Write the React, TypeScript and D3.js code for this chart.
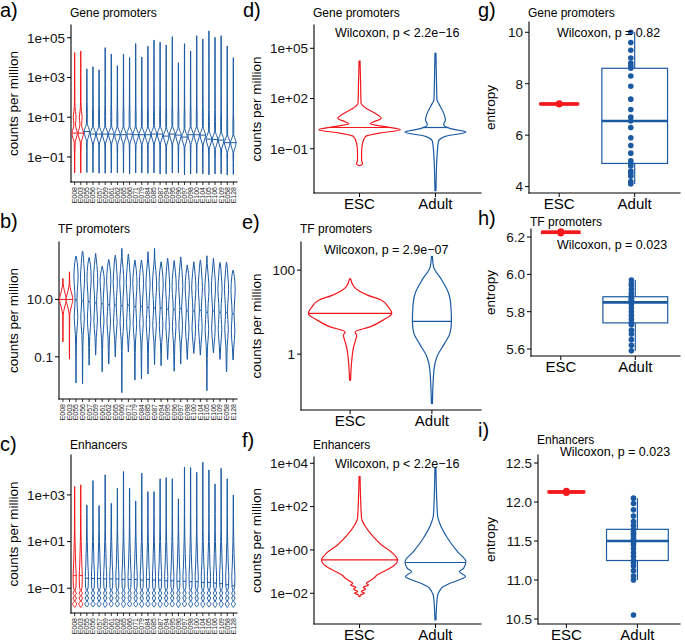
import React from 'react';
import * as d3 from 'd3';

type Pt = [number, number];

const RED = '#F2181C';
const BLUE = '#1B5AA3';
const FONT = '"Liberation Sans", Arial, Helvetica, sans-serif';

// Roadmap epigenomes: 2 ESC lines, then 25 adult tissues
const escSamples = ['E008', 'E003'];
const adultSamples = [
  'E055', 'E056', 'E057', 'E059', 'E061', 'E062', 'E065', 'E066', 'E071', 'E079', 'E084', 'E085', 'E087',
  'E094', 'E095', 'E096', 'E097', 'E098', 'E100', 'E104', 'E105', 'E106', 'E109', 'E058', 'E128',
];
const samples = [...escSamples, ...adultSamples];
const groups = ['ESC', 'Adult'];

// a) gene promoters, log10 cpm per sample
const geneMax = [4.25, 4.33, 3.43, 3.54, 3.38, 4.5, 4.18, 3.59, 4.18, 4.0, 4.7, 4.03, 4.57, 4.88, 4.78, 4.63, 5.05, 3.74, 4.7, 4.33, 5.1, 4.93, 5.34, 5.02, 5.1, 4.58, 4.0];
const geneMedian = [0.2, 0.2, 0.28, 0.15, 0.15, 0.15, 0.15, 0.12, 0.12, 0.15, 0.12, 0.12, 0.12, 0.15, 0.15, 0.05, 0.15, 0.1, 0.0, 0.12, 0.12, 0.1, -0.1, -0.12, -0.15, -0.28, -0.28];
const geneMin = [-1.8, -1.8, -1.78, -1.78, -1.82, -1.82, -1.8, -1.8, -1.8, -1.85, -1.8, -1.8, -1.82, -1.8, -1.85, -1.85, -1.8, -1.8, -1.9, -1.85, -1.82, -1.85, -1.9, -1.85, -1.85, -1.9, -1.88];

// b) TF promoters
const tfMax = [1.73, 1.96, 2.51, 2.68, 2.46, 2.6, 2.16, 2.39, 2.54, 2.78, 2.58, 2.37, 2.37, 2.66, 2.78, 2.31, 2.43, 2.35, 2.48, 2.2, 2.31, 2.37, 2.52, 2.43, 2.29, 2.3, 2.02];
const tfMedian = [1.0, 1.0, 0.98, 0.95, 0.92, 0.88, 0.85, 0.82, 0.8, 0.78, 0.8, 0.75, 0.75, 0.72, 0.7, 0.7, 0.66, 0.65, 0.68, 0.6, 0.6, 0.62, 0.55, 0.6, 0.55, 0.55, 0.5];
const tfMin = [-0.48, -1.08, -1.91, -1.94, -1.29, -0.94, -1.52, -1.25, -1.0, -2.25, -0.83, -1.81, -1.77, -1.6, -1.27, -1.31, -1.09, -1.5, -1.25, -1.09, -0.88, -0.94, -2.18, -0.86, -1.09, -1.52, -1.11];

// c) enhancers
const enhMax = [3.36, 3.43, 2.57, 3.61, 2.54, 3.86, 2.64, 3.29, 4.0, 3.29, 2.74, 3.93, 3.14, 3.14, 3.69, 3.74, 3.69, 2.83, 4.19, 4.17, 3.97, 4.4, 4.07, 3.47, 4.14, 3.69, 3.0];
const enhMedian = [-0.46, -0.46, -0.57, -0.58, -0.58, -0.6, -0.6, -0.6, -0.62, -0.62, -0.62, -0.65, -0.62, -0.65, -0.65, -0.68, -0.68, -0.7, -0.7, -0.72, -0.72, -0.75, -0.75, -0.78, -0.8, -0.85, -0.9];
const enhMin = [-1.82, -1.82, -1.8, -1.8, -1.8, -1.82, -1.8, -1.8, -1.82, -1.8, -1.8, -1.82, -1.8, -1.8, -1.82, -1.8, -1.8, -1.82, -1.8, -1.82, -1.8, -1.82, -1.8, -1.82, -1.82, -1.82, -1.82];

// per-sample violin outlines: [offset from median (log10), relative density]
const geneShapeEsc: Pt[] = [[-2.5, 0.05], [-1.0, 0.07], [-0.45, 0.18], [-0.25, 0.6], [0, 1], [0.25, 0.5], [0.45, 0.3], [0.8, 0.5], [1.1, 0.25], [1.6, 0.08], [3, 0.05], [6, 0.04]];
const geneShapeAdult: Pt[] = [[-2.5, 0.05], [-1.0, 0.06], [-0.5, 0.12], [-0.3, 0.5], [0, 1], [0.25, 0.45], [0.42, 0.12], [0.9, 0.16], [1.5, 0.08], [2.5, 0.05], [4, 0.04], [6, 0.04]];
const tfShapeEsc: Pt[] = [[-3, 0.05], [-1, 0.07], [-0.55, 0.12], [-0.3, 0.7], [0, 1.6], [0.3, 0.7], [0.55, 0.12], [1, 0.07], [2, 0.05]];
const tfShapeAdult: Pt[] = [[-3, 0.06], [-2, 0.1], [-1.2, 0.3], [-0.6, 0.85], [-0.25, 0.6], [0, 0.45], [0.3, 0.6], [0.8, 1.0], [1.3, 0.6], [1.7, 0.15], [2.5, 0.05]];
// enhancers: absolute log10 cpm (low-count beads sit at fixed levels)
const enhShape: Pt[] = [[-1.8, 0.05], [-1.66, 0.75], [-1.55, 0.12], [-1.42, 0.65], [-1.32, 0.12], [-1.21, 0.65], [-1.1, 0.15], [-0.95, 0.5], [-0.5, 0.6], [0.0, 0.4], [0.5, 0.28], [1.0, 0.16], [1.5, 0.09], [2.2, 0.06], [3.0, 0.05], [4.5, 0.04]];

// d-f) pooled violins: [log10 cpm, relative density]
const geneEscShape: Pt[] = [[-2.0, 0.012], [-1.95, 0.06], [-1.88, 0.074], [-1.7, 0.05], [-1.2, 0.05], [-0.65, 0.074], [-0.26, 0.15], [-0.06, 0.49], [0.14, 1.0], [0.35, 0.54], [0.49, 0.26], [0.6, 0.34], [0.83, 0.53], [1.1, 0.39], [1.43, 0.15], [1.73, 0.037], [3.0, 0.025], [4.24, 0.012]];
const geneAdultShape: Pt[] = [[-3.5, 0.012], [-1.5, 0.037], [-0.56, 0.074], [-0.26, 0.245], [0.0, 0.75], [0.2, 0.37], [0.43, 0.2], [0.73, 0.245], [1.13, 0.2], [1.73, 0.074], [1.92, 0.037], [3.0, 0.025], [4.7, 0.012]];
const tfEscShape: Pt[] = [[-0.62, 0.012], [-0.07, 0.048], [0.17, 0.084], [0.33, 0.13], [0.45, 0.16], [0.53, 0.12], [0.65, 0.48], [0.81, 0.79], [0.97, 1.0], [1.13, 0.91], [1.29, 0.74], [1.4, 0.43], [1.52, 0.19], [1.6, 0.096], [1.79, 0.012]];
const tfAdultShape: Pt[] = [[-1.17, 0.012], [-0.38, 0.048], [-0.06, 0.12], [0.25, 0.3], [0.49, 0.43], [0.78, 0.468], [1.13, 0.456], [1.45, 0.4], [1.76, 0.24], [2.08, 0.04], [2.32, 0.012]];
const enhEscShape: Pt[] = [[-2.16, 0.013], [-2.08, 0.026], [-2.0, 0.13], [-1.92, 0.05], [-1.82, 0.16], [-1.72, 0.1], [-1.62, 0.24], [-1.55, 0.18], [-1.46, 0.24], [-1.31, 0.37], [-1.15, 0.47], [-1.0, 0.63], [-0.77, 0.87], [-0.46, 1.0], [-0.15, 0.87], [0.23, 0.58], [0.69, 0.32], [1.15, 0.13], [1.46, 0.053], [3.38, 0.013]];
const enhAdultShape: Pt[] = [[-3.23, 0.013], [-2.16, 0.05], [-1.92, 0.1], [-1.69, 0.21], [-1.55, 0.37], [-1.38, 0.63], [-1.23, 0.79], [-1.0, 0.63], [-0.85, 0.74], [-0.54, 0.8], [-0.08, 0.58], [0.54, 0.32], [1.15, 0.13], [1.61, 0.053], [3.77, 0.013]];
const geneGroupMedian = [0.27, 0.27];
const tfGroupMedian = [0.97, 0.78];
const enhGroupMedian = [-0.46, -0.58];

// g-i) entropy
const geneEntropyEsc = [7.2, 7.23];
const geneEntropyAdult = [10.0, 9.6, 9.3, 9.0, 8.8, 8.7, 8.6, 8.3, 7.9, 7.4, 7.0, 6.7, 6.55, 6.3, 5.9, 5.6, 5.3, 5.0, 4.9, 4.8, 4.6, 4.5, 4.4, 4.2, 4.1];
const tfEntropyEsc = [6.22, 6.23];
const tfEntropyAdult = [5.97, 5.95, 5.94, 5.92, 5.9, 5.89, 5.88, 5.87, 5.87, 5.86, 5.86, 5.85, 5.85, 5.84, 5.82, 5.8, 5.78, 5.76, 5.74, 5.73, 5.7, 5.68, 5.65, 5.62, 5.59];
const enhEntropyEsc = [12.12, 12.14];
const enhEntropyAdult = [12.05, 11.98, 11.9, 11.82, 11.75, 11.7, 11.65, 11.63, 11.6, 11.58, 11.55, 11.52, 11.5, 11.48, 11.45, 11.4, 11.35, 11.3, 11.25, 11.22, 11.18, 11.12, 11.05, 11.0, 10.55];

interface Box { left: number; right: number; top: number; bottom: number; lo: number; hi: number }

const sci = (e: number) => `1e${e < 0 ? '\u2212' : '+'}${String(Math.abs(e)).padStart(2, '0')}`;

function densityAt(profile: Pt[], v: number) {
  if (v <= profile[0][0]) return profile[0][1];
  for (let k = 1; k < profile.length; k++) {
    if (v <= profile[k][0]) {
      const [v0, d0] = profile[k - 1];
      const [v1, d1] = profile[k];
      return d0 + ((d1 - d0) * (v - v0)) / (v1 - v0);
    }
  }
  return profile[profile.length - 1][1];
}

function violinD(outline: Pt[], cx: number, y: (v: number) => number, hw: number) {
  const area = d3
    .area<Pt>()
    .y((d) => y(10 ** d[0]))
    .x0((d) => cx - d[1] * hw)
    .x1((d) => cx + d[1] * hw)
    .curve(d3.curveMonotoneY);
  return area(outline.slice().reverse()) || '';
}

function Frame({ f, ticks, yTitle, yTitleX, title, titleY, tag, tagX, tagY }: {
  f: Box; ticks: { y: number; label: string }[]; yTitle: string; yTitleX: number;
  title: string; titleY: number; tag: string; tagX: number; tagY: number;
}) {
  return (
    <g>
      <text x={tagX} y={tagY} fontSize={20}>{tag}</text>
      <text x={f.left - 1} y={titleY} fontSize={12}>{title}</text>
      <text transform={`translate(${yTitleX},${(f.top + f.bottom) / 2}) rotate(-90)`} textAnchor="middle" dy="0.35em" fontSize={13.5}>
        {yTitle}
      </text>
      <line x1={f.left} x2={f.left} y1={f.top} y2={f.bottom} stroke="#000" strokeWidth={1.1} strokeLinecap="square" />
      <line x1={f.left} x2={f.right} y1={f.bottom} y2={f.bottom} stroke="#000" strokeWidth={1.1} strokeLinecap="square" />
      {ticks.map((t) => (
        <g key={t.label}>
          <line x1={f.left - 4} x2={f.left} y1={t.y} y2={t.y} stroke="#000" strokeWidth={1} />
          <text x={f.left - 6} y={t.y} dy="0.36em" textAnchor="end" fontSize={13.5} fill="#111">{t.label}</text>
        </g>
      ))}
    </g>
  );
}

function SampleViolins({ f, maxV, medV, minV, shapeEsc, shapeAdult, relative, hw, tickExps, fmt, ...frame }: any) {
  const y = d3.scaleLog().domain([10 ** f.lo, 10 ** f.hi]).range([f.bottom, f.top]);
  const x = d3.scalePoint<string>().domain(samples).range([f.left, f.right]).padding(0.6);
  const ticks = tickExps.map((e: number) => ({ y: y(10 ** e), label: fmt(e) }));
  return (
    <g>
      <Frame f={f} ticks={ticks} {...frame} />
      {samples.map((id, i) => {
        const esc = i < escSamples.length;
        const shape: Pt[] = esc ? shapeEsc : shapeAdult;
        const prof: Pt[] = relative ? shape.map(([o, d]) => [medV[i] + o, d] as Pt) : shape;
        const inner = prof.filter(([v]) => v > minV[i] + 0.03 && v < maxV[i] - 0.03);
        const outline: Pt[] = [[minV[i], 0.03], ...inner, [maxV[i], 0.03]];
        const cx = x(id)!;
        const color = esc ? RED : BLUE;
        const wm = densityAt(prof, medV[i]) * hw;
        return (
          <g key={id}>
            <path d={violinD(outline, cx, y, hw)} fill="white" stroke={color} strokeWidth={1} />
            <line x1={cx - wm} x2={cx + wm} y1={y(10 ** medV[i])} y2={y(10 ** medV[i])} stroke={color} strokeWidth={1} />
            <line x1={cx} x2={cx} y1={f.bottom} y2={f.bottom + 3} stroke="#000" strokeWidth={0.8} />
            <text transform={`translate(${cx},${f.bottom + 5}) rotate(-90)`} textAnchor="end" dy="0.35em" fontSize={7} fill="#222">{id}</text>
          </g>
        );
      })}
    </g>
  );
}

function GroupViolins({ f, shapes, medians, hw, tickExps, fmt, wil, wilX, wilY, ...frame }: any) {
  const y = d3.scaleLog().domain([10 ** f.lo, 10 ** f.hi]).range([f.bottom, f.top]);
  const x = d3.scalePoint<string>().domain(groups).range([f.left, f.right]).padding(0.6);
  const ticks = tickExps.map((e: number) => ({ y: y(10 ** e), label: fmt(e) }));
  return (
    <g>
      <Frame f={f} ticks={ticks} {...frame} />
      {groups.map((g, i) => {
        const cx = x(g)!;
        const color = i === 0 ? RED : BLUE;
        const prof: Pt[] = shapes[i];
        const wm = densityAt(prof, medians[i]) * hw;
        const ym = y(10 ** medians[i]);
        return (
          <g key={g}>
            <path d={violinD(prof, cx, y, hw)} fill="white" stroke={color} strokeWidth={1.2} />
            <line x1={cx - wm} x2={cx + wm} y1={ym} y2={ym} stroke={color} strokeWidth={1.2} />
            <line x1={cx} x2={cx} y1={f.bottom} y2={f.bottom + 4} stroke="#000" strokeWidth={1} />
            <text x={cx} y={f.bottom + 16} textAnchor="middle" fontSize={15}>{g}</text>
          </g>
        );
      })}
      <text x={wilX} y={wilY} fontSize={12.5}>{wil}</text>
    </g>
  );
}

function boxStats(values: number[]) {
  const s = values.slice().sort(d3.ascending);
  const q1 = d3.quantile(s, 0.25)!;
  const med = d3.quantile(s, 0.5)!;
  const q3 = d3.quantile(s, 0.75)!;
  const iqr = q3 - q1;
  const lo = d3.min(s.filter((v) => v >= q1 - 1.5 * iqr))!;
  const hi = d3.max(s.filter((v) => v <= q3 + 1.5 * iqr))!;
  return { q1, med, q3, lo, hi };
}

function EntropyBoxes({ f, esc, adult, tickVals, fmt, wil, wilX, wilY, ...frame }: any) {
  const y = d3.scaleLinear().domain([f.lo, f.hi]).range([f.bottom, f.top]);
  const x = d3.scalePoint<string>().domain(groups).range([f.left, f.right]).padding(0.5).align(0.4);
  const step = x.step();
  const ticks = tickVals.map((v: number) => ({ y: y(v), label: fmt(v) }));
  const sets = [esc, adult];
  const widths = [0.5, 0.87];
  return (
    <g>
      <Frame f={f} ticks={ticks} {...frame} />
      {groups.map((g, i) => {
        const cx = x(g)!;
        const color = i === 0 ? RED : BLUE;
        const st = boxStats(sets[i]);
        const bw = widths[i] * step;
        return (
          <g key={g}>
            <line x1={cx} x2={cx} y1={y(st.q3)} y2={y(st.hi)} stroke={color} strokeWidth={1.2} />
            <line x1={cx} x2={cx} y1={y(st.q1)} y2={y(st.lo)} stroke={color} strokeWidth={1.2} />
            <rect x={cx - bw / 2} width={bw} y={y(st.q3)} height={Math.max(0, y(st.q1) - y(st.q3))} fill="white" stroke={color} strokeWidth={i === 0 ? 2.5 : 1.2} />
            <line x1={cx - bw / 2} x2={cx + bw / 2} y1={y(st.med)} y2={y(st.med)} stroke={color} strokeWidth={i === 0 ? 3.5 : 2.6} />
            {sets[i].map((v: number, k: number) => (
              <circle key={k} cx={cx + (i === 0 ? 0 : (((k * 7) % 7) - 3) * 1.3)} cy={y(v)} r={i === 0 ? 3.3 : 2.8} fill={color} />
            ))}
            <line x1={cx} x2={cx} y1={f.bottom} y2={f.bottom + 4} stroke="#000" strokeWidth={1} />
            <text x={cx} y={f.bottom + 16} textAnchor="middle" fontSize={15}>{g}</text>
          </g>
        );
      })}
      <text x={wilX} y={wilY} fontSize={12.5}>{wil}</text>
    </g>
  );
}

export default function App() {
  const col1Title = 13.3;
  const col2Title = 256.7;
  const col3Title = 490;
  return (
    <svg width={685} height={644} style={{ position: 'absolute', left: 0, top: 0, background: 'white' }} fontFamily={FONT}>
      <rect width={685} height={644} fill="white" />
      <SampleViolins
        f={{ left: 71, right: 237, top: 25, bottom: 182, lo: -2.26, hi: 5.64 }}
        maxV={geneMax} medV={geneMedian} minV={geneMin} shapeEsc={geneShapeEsc} shapeAdult={geneShapeAdult}
        relative hw={2.8} tickExps={[-1, 1, 3, 5]} fmt={sci}
        yTitle="counts per million" yTitleX={col1Title} title="Gene promoters" titleY={16.5} tag="a)" tagX={0} tagY={17}
      />
      <SampleViolins
        f={{ left: 59, right: 237, top: 242, bottom: 399, lo: -2.47, hi: 3.0 }}
        maxV={tfMax} medV={tfMedian} minV={tfMin} shapeEsc={tfShapeEsc} shapeAdult={tfShapeAdult}
        relative hw={2.1} tickExps={[-1, 1]} fmt={(e: number) => (e < 0 ? '0.1' : '10.0')}
        yTitle="counts per million" yTitleX={col1Title} title="TF promoters" titleY={232.5} tag="b)" tagX={0} tagY={228}
      />
      <SampleViolins
        f={{ left: 71, right: 237, top: 455, bottom: 613, lo: -2.06, hi: 4.71 }}
        maxV={enhMax} medV={enhMedian} minV={enhMin} shapeEsc={enhShape} shapeAdult={enhShape}
        relative={false} hw={2.6} tickExps={[-1, 1, 3]} fmt={sci}
        yTitle="counts per million" yTitleX={col1Title} title="Enhancers" titleY={449} tag="c)" tagX={0} tagY={451}
      />
      <GroupViolins
        f={{ left: 314, right: 481, top: 25, bottom: 193, lo: -3.64, hi: 6.39 }}
        shapes={[geneEscShape, geneAdultShape]} medians={geneGroupMedian} hw={40.8} tickExps={[-1, 2, 5]} fmt={sci}
        wil={'Wilcoxon, p < 2.2e\u221216'} wilX={335} wilY={36.5}
        yTitle="counts per million" yTitleX={col2Title} title="Gene promoters" titleY={16.5} tag="d)" tagX={243} tagY={17}
      />
      <GroupViolins
        f={{ left: 301, right: 481, top: 242, bottom: 410, lo: -1.33, hi: 2.67 }}
        shapes={[tfEscShape, tfAdultShape]} medians={tfGroupMedian} hw={41.7} tickExps={[0, 2]} fmt={(e: number) => String(10 ** e)}
        wil={'Wilcoxon, p = 2.9e\u221207'} wilX={324} wilY={254}
        yTitle="counts per million" yTitleX={col2Title} title="TF promoters" titleY={232.5} tag="e)" tagX={242} tagY={229}
      />
      <GroupViolins
        f={{ left: 314, right: 481, top: 457, bottom: 624, lo: -3.42, hi: 4.29 }}
        shapes={[enhEscShape, enhAdultShape]} medians={enhGroupMedian} hw={38} tickExps={[-2, 0, 2, 4]} fmt={sci}
        wil={'Wilcoxon, p < 2.2e\u221216'} wilX={335} wilY={467.5}
        yTitle="counts per million" yTitleX={col2Title} title="Enhancers" titleY={449} tag="f)" tagX={242} tagY={447}
      />
      <EntropyBoxes
        f={{ left: 529, right: 680, top: 22, bottom: 193, lo: 3.75, hi: 10.4 }}
        esc={geneEntropyEsc} adult={geneEntropyAdult} tickVals={[4, 6, 8, 10]} fmt={(v: number) => String(v)}
        wil="Wilcoxon, p = 0.82" wilX={557} wilY={37}
        yTitle="entropy" yTitleX={col3Title} title="Gene promoters" titleY={16.5} tag="g)" tagX={478} tagY={17}
      />
      <EntropyBoxes
        f={{ left: 531, right: 680, top: 229, bottom: 356, lo: 5.5625, hi: 6.243 }}
        esc={tfEntropyEsc} adult={tfEntropyAdult} tickVals={[5.6, 5.8, 6.0, 6.2]} fmt={(v: number) => v.toFixed(1)}
        wil="Wilcoxon, p = 0.023" wilX={557} wilY={249}
        yTitle="entropy" yTitleX={col3Title} title="TF promoters" titleY={226} tag="h)" tagX={478} tagY={225}
      />
      <EntropyBoxes
        f={{ left: 538, right: 680, top: 455, bottom: 624, lo: 10.436, hi: 12.603 }}
        esc={enhEntropyEsc} adult={enhEntropyAdult} tickVals={[10.5, 11.0, 11.5, 12.0, 12.5]} fmt={(v: number) => v.toFixed(1)}
        wil="Wilcoxon, p = 0.023" wilX={560} wilY={456}
        yTitle="entropy" yTitleX={col3Title} title="Enhancers" titleY={444} tag="i)" tagX={478} tagY={437}
      />
    </svg>
  );
}
